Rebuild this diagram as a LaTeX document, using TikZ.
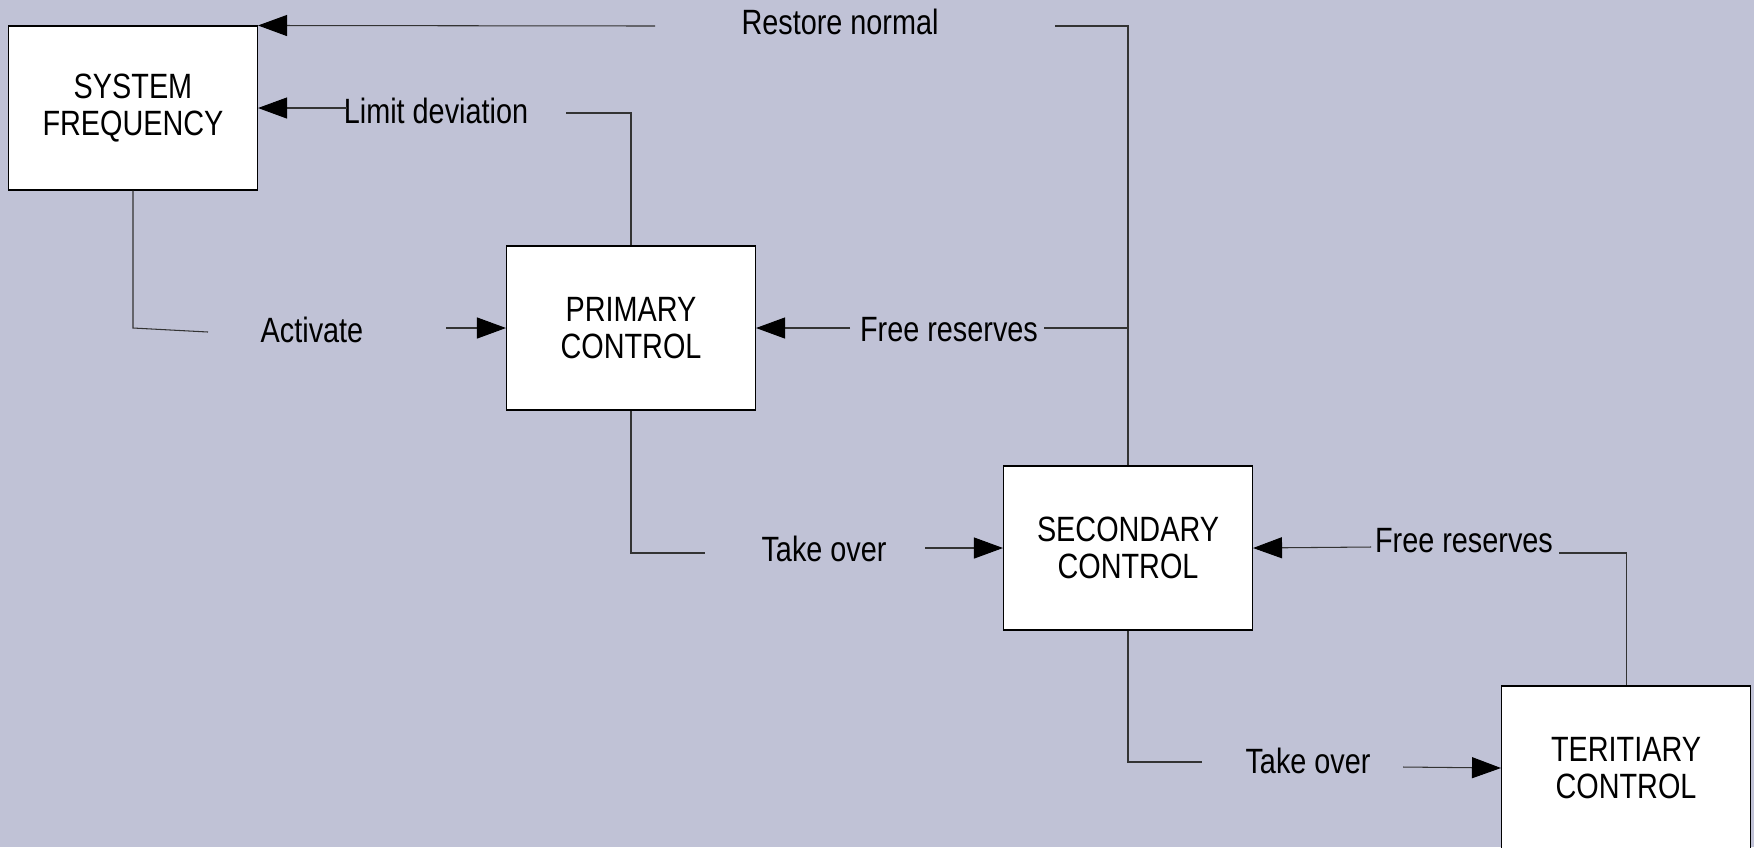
\documentclass[tikz,border=0pt]{standalone}
\usepackage{fontspec}
\setmainfont{Liberation Sans}[FakeStretch=0.82]
\usetikzlibrary{arrows.meta}
\definecolor{bgcol}{RGB}{192,194,214}
\tikzset{
  block/.style={draw=black, fill=white, line width=0.3pt, minimum width=24.9mm,
    minimum height=16.4mm, align=center, font=\fontsize{10}{10.5}\selectfont},
  lbl/.style={inner sep=0pt, font=\fontsize{10}{12}\selectfont},
  wire/.style={line width=0.3pt, draw=black!80},
  feed/.style={wire, -{Triangle[length=2.9mm,width=2.1mm,color=black]}}
}
\begin{document}
\begin{tikzpicture}[x=0.1mm,y=-0.1mm]
\fill[bgcol] (0,0) rectangle (1754,847);
\useasboundingbox (0,0) rectangle (1754,847);

% blocks
\node[block] (sysf) at (133,108) {SYSTEM\\FREQUENCY};
\node[block] (prim) at (631,328) {PRIMARY\\CONTROL};
\node[block] (sec) at (1128,548) {SECONDARY\\CONTROL};
\node[block] (ter) at (1626,768) {TERITIARY\\CONTROL};

% labels
\node[lbl] (restore) at (840,22) {Restore normal};
\node[lbl] (limit) at (436,111) {Limit deviation};
\node[lbl] (act) at (312,330) {Activate};
\node[lbl] (freeA) at (949,330) {Free reserves};
\node[lbl] (takeA) at (824,549) {Take over};
\node[lbl] (freeB) at (1464,541) {Free reserves};
\node[lbl] (takeB) at (1308,761) {Take over};

% loose ends
\coordinate (r1) at (655,26);  \coordinate (r2) at (1055,26);
\coordinate (l1) at (347,108); \coordinate (l2) at (566,113);
\coordinate (a1) at (208,332); \coordinate (a2) at (446,328);
\coordinate (f1) at (850,328); \coordinate (f2) at (1044,328);
\coordinate (t1) at (705,553); \coordinate (t2) at (925,548);
\coordinate (g1) at (1371,547); \coordinate (g2) at (1559,553);
\coordinate (u1) at (1202,762); \coordinate (u2) at (1403,767);

% restore normal
\draw[feed] (r1) -- (sysf.north east);
\draw[wire] (r2) -| (sec.north);
% limit deviation
\draw[feed] (l1) -- (sysf.east);
\draw[wire] (l2) -| (prim.north);
% activate
\draw[wire] (sysf.south) -- (sysf.south |- a2) -- (a1);
\draw[feed] (a2) -- (prim.west);
% free reserves
\draw[feed] (f1) -- (prim.east);
\draw[wire] (f2) -- (f2 -| sec.north);
\draw[feed] (g1) -- (sec.east);
\draw[wire] (g2) -| (ter.north);
% take over
\draw[wire] (prim.south) |- (t1);
\draw[feed] (t2) -- (sec.west);
\draw[wire] (sec.south) |- (u1);
\draw[feed] (u2) -- (ter.west);
\end{tikzpicture}
\end{document}
